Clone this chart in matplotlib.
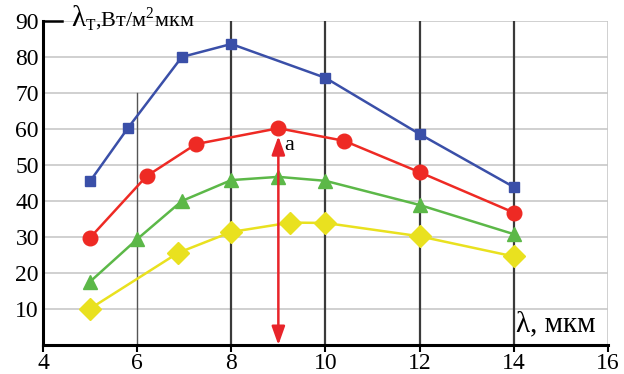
import numpy as np
import matplotlib.pyplot as plt

# data
x_blue = [5.0, 5.8, 6.95, 8.0, 10.0, 12.0, 14.0]
y_blue = [45.5, 60.2, 80.0, 83.6, 74.2, 58.6, 43.9]

x_red = [5.0, 6.2, 7.25, 9.0, 10.4, 12.0, 14.0]
y_red = [29.8, 46.9, 55.8, 60.2, 56.7, 48.0, 36.8]

x_green = [5.0, 6.0, 6.95, 8.0, 9.0, 10.0, 12.0, 14.0]
y_green = [17.6, 29.4, 40.0, 45.8, 46.7, 45.6, 38.9, 30.8]

x_yellow = [5.0, 6.87, 8.0, 9.25, 10.0, 12.0, 14.0]
y_yellow = [10.1, 25.6, 31.4, 34.0, 33.9, 30.2, 24.6]

xticks = [4, 6, 8, 10, 12, 14, 16]
yticks = [10, 20, 30, 40, 50, 60, 70, 80, 90]

plt.rcParams['font.family'] = ['Liberation Serif', 'DejaVu Serif']

fig = plt.figure(figsize=(6.24, 3.74), dpi=100)
ax = fig.add_axes([0.069, 0.0775, 0.905, 0.8665])
ax.set_xlim(4, 16)
ax.set_ylim(0, 90)

# grid
for yv in yticks:
    ax.axhline(yv, color='#c8c8c8', lw=1.2, zorder=0)
ax.axvline(16, color='#c8c8c8', lw=1.2, zorder=0)
ax.plot([6, 6], [0, 70], color='#555555', lw=1.0, zorder=1)
for xv in [8, 10, 12, 14]:
    ax.axvline(xv, color='#3a3a3a', lw=1.6, zorder=1)
ax.plot([4, 4.4], [90, 90], color='black', lw=1.8, zorder=2, clip_on=False)

for side in ['top', 'right']:
    ax.spines[side].set_visible(False)
ax.spines['left'].set_linewidth(2.2)
ax.spines['bottom'].set_linewidth(2.2)

ax.set_xticks(xticks)
ax.set_yticks(yticks)
ax.tick_params(axis='x', length=5, width=1.5, labelsize=17, pad=1)
ax.tick_params(axis='y', length=0, labelsize=17, pad=3)

ax.plot(x_blue, y_blue, color='#3a4fa8', lw=1.8, marker='s', ms=7.5, zorder=3)
ax.plot(x_red, y_red, color='#ee2a24', lw=1.8, marker='o', ms=10.5, zorder=3)
ax.plot(x_green, y_green, color='#5cb848', lw=1.8, marker='^', ms=10.5, zorder=3)
ax.plot(x_yellow, y_yellow, color='#e9e11f', lw=1.8, marker='D', ms=11, zorder=3)

ax.annotate('', xy=(9, 0), xytext=(9, 58),
            arrowprops=dict(arrowstyle='<|-|>,head_length=0.7,head_width=0.25',
                            color='#e8242a', lw=1.8,
                            mutation_scale=16, shrinkA=0, shrinkB=0), zorder=4)
ax.text(9.12, 55.5, 'a', fontsize=16, ha='left', va='center')

ax.text(4.6, 90.5, 'λ', fontsize=21, ha='left', va='center')
ax.text(4.9, 90.5, r'$_{\mathregular{T}}$,Вт/м$^{\mathregular{2}}$мкм',
        fontsize=16, ha='left', va='center')
ax.text(14.05, 2.0, 'λ, мкм', fontsize=21, ha='left', va='bottom')

fig.savefig('out.png', dpi=100)
